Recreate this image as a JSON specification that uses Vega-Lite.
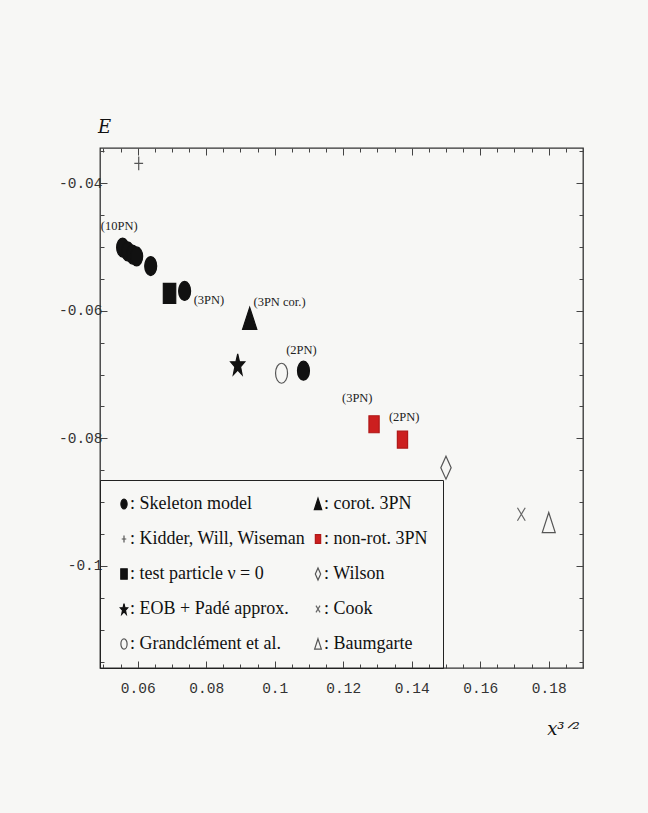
{
  "$schema": "https://vega.github.io/schema/vega-lite/v6.json",
  "width": 483,
  "height": 520,
  "autosize": {"type": "none"},
  "padding": {"left": 100, "top": 148, "right": 65, "bottom": 145},
  "background": "#f7f7f5",
  "config": {
    "view": {"stroke": "#333333", "strokeWidth": 1.3},
    "legend": {
      "orient": "bottom-left",
      "offset": 0,
      "columns": 2,
      "padding": 15,
      "rowPadding": 17,
      "columnPadding": 3,
      "labelOffset": -3,
      "labelFont": "Liberation Serif",
      "labelFontSize": 18,
      "labelColor": "#111111",
      "labelLimit": 0,
      "symbolSize": 130,
      "symbolStrokeWidth": 1.2,
      "strokeColor": "#222222"
    }
  },
  "datasets": {
    "points": [
      {"series": "Skeleton model", "x": 0.0556, "y": -0.0501},
      {"series": "Skeleton model", "x": 0.0571, "y": -0.0507},
      {"series": "Skeleton model", "x": 0.0585, "y": -0.0512},
      {"series": "Skeleton model", "x": 0.0597, "y": -0.0515},
      {"series": "Skeleton model", "x": 0.0638, "y": -0.0530},
      {"series": "Skeleton model", "x": 0.0737, "y": -0.0569},
      {"series": "Skeleton model", "x": 0.1084, "y": -0.0694},
      {"series": "Kidder, Will, Wiseman", "x": 0.0603, "y": -0.0369},
      {"series": "test particle ν = 0", "x": 0.0693, "y": -0.0573},
      {"series": "EOB + Padé approx.", "x": 0.0892, "y": -0.0684},
      {"series": "Grandclément et al.", "x": 0.1020, "y": -0.0698},
      {"series": "corot. 3PN", "x": 0.0927, "y": -0.0612},
      {"series": "non-rot. 3PN", "x": 0.1290, "y": -0.0778},
      {"series": "non-rot. 3PN", "x": 0.1373, "y": -0.0802},
      {"series": "Wilson", "x": 0.1500, "y": -0.0846},
      {"series": "Cook", "x": 0.1720, "y": -0.0919},
      {"series": "Baumgarte", "x": 0.1800, "y": -0.0932}
    ],
    "labels": [
      {"x": 0.0546, "y": -0.0467, "label": "(10PN)"},
      {"x": 0.0808, "y": -0.0584, "label": "(3PN)"},
      {"x": 0.1014, "y": -0.0586, "label": "(3PN cor.)"},
      {"x": 0.1078, "y": -0.0662, "label": "(2PN)"},
      {"x": 0.1241, "y": -0.0737, "label": "(3PN)"},
      {"x": 0.1378, "y": -0.0767, "label": "(2PN)"}
    ]
  },
  "layer": [
    {
      "data": {"name": "points"},
      "mark": {"type": "point", "opacity": 1, "strokeWidth": 1.2, "size": 484},
      "encoding": {
        "x": {
          "field": "x", "type": "quantitative",
          "scale": {"domain": [0.049, 0.19], "nice": false, "zero": false},
          "axis": {
            "orient": "bottom",
            "values": [0.05, 0.055, 0.06, 0.065, 0.07, 0.075, 0.08, 0.085, 0.09, 0.095, 0.1, 0.105, 0.11, 0.115, 0.12, 0.125, 0.13, 0.135, 0.14, 0.145, 0.15, 0.155, 0.16, 0.165, 0.17, 0.175, 0.18, 0.185, 0.19],
            "labelExpr": "round(datum.value*1000) % 20 == 0 ? format(datum.value, '.2~f') : ''",
            "labelOverlap": false,
            "labelFlush": false,
            "labelFont": "Liberation Mono",
            "labelFontSize": 14.5,
            "labelColor": "#333333",
            "labelPadding": 20,
            "domain": false,
            "grid": false,
            "tickColor": "#444444",
            "tickSize": {"condition": {"test": "round(datum.value*1000) % 20 == 0", "value": -7}, "value": -4},
            "title": "x³ᐟ²",
            "titleFont": "DejaVu Serif",
            "titleFontStyle": "italic",
            "titleFontWeight": "normal",
            "titleFontSize": 18,
            "titleColor": "#111111",
            "titleX": 463,
            "titleY": 66,
            "titleAlign": "center",
            "titleBaseline": "alphabetic"
          }
        },
        "y": {
          "field": "y", "type": "quantitative",
          "scale": {"domain": [-0.116, -0.0345], "nice": false, "zero": false},
          "axis": {
            "orient": "left",
            "values": [-0.115, -0.11, -0.105, -0.1, -0.095, -0.09, -0.085, -0.08, -0.075, -0.07, -0.065, -0.06, -0.055, -0.05, -0.045, -0.04, -0.035],
            "labelExpr": "round(abs(datum.value)*1000) % 20 == 0 ? '-' + format(abs(datum.value), '.2~f') : ''",
            "labelOverlap": false,
            "labelFlush": false,
            "labelFont": "Liberation Mono",
            "labelFontSize": 14.5,
            "labelColor": "#333333",
            "labelPadding": 5,
            "domain": false,
            "grid": false,
            "tickColor": "#444444",
            "tickSize": {"condition": {"test": "round(abs(datum.value)*1000) % 20 == 0", "value": -7}, "value": -4},
            "title": "E",
            "titleAngle": 0,
            "titleFont": "DejaVu Serif",
            "titleFontStyle": "italic",
            "titleFontWeight": "normal",
            "titleFontSize": 18,
            "titleColor": "#111111",
            "titleX": 4,
            "titleY": -16,
            "titleAlign": "center",
            "titleBaseline": "alphabetic"
          }
        },
        "shape": {
          "field": "series", "type": "nominal", "title": null,
          "scale": {
            "domain": ["Skeleton model", "Kidder, Will, Wiseman", "test particle ν = 0", "EOB + Padé approx.", "Grandclément et al.", "corot. 3PN", "non-rot. 3PN", "Wilson", "Cook", "Baumgarte"],
            "range": [
              "M-0.544,0A0.544,0.864 0 1,0 0.544,0A0.544,0.864 0 1,0 -0.544,0Z",
              "M-0.4,0L0.4,0M0,-0.62L0,0.62",
              "M-0.564,-0.909L0.564,-0.909L0.564,0.909L-0.564,0.909Z",
              "M0,-0.955L0.16,-0.241L0.649,-0.224L0.26,0.23L0.401,0.95L0,0.52L-0.401,0.95L-0.26,0.23L-0.649,-0.224L-0.16,-0.241Z",
              "M-0.545,0A0.545,0.909 0 1,0 0.545,0A0.545,0.909 0 1,0 -0.545,0Z",
              "M0,-1L0.65,1L-0.65,1Z",
              "M-0.464,-0.773L0.464,-0.773L0.464,0.773L-0.464,0.773Z",
              "M0,-1.045L0.47,0L0,1.045L-0.47,0Z",
              "M-0.355,-0.591L0.355,0.591M-0.355,0.591L0.355,-0.591",
              "M0,-0.909L0.59,0.909L-0.59,0.909Z"
            ]
          },
          "legend": {"title": null, "labelExpr": "': ' + datum.label", "labelFont": "Liberation Serif", "labelFontSize": 18}
        },
        "fill": {
          "field": "series", "type": "nominal", "title": null,
          "scale": {
            "domain": ["Skeleton model", "Kidder, Will, Wiseman", "test particle ν = 0", "EOB + Padé approx.", "Grandclément et al.", "corot. 3PN", "non-rot. 3PN", "Wilson", "Cook", "Baumgarte"],
            "range": ["#111111", "transparent", "#111111", "#111111", "transparent", "#111111", "#cc1f1f", "transparent", "transparent", "transparent"]
          },
          "legend": {"title": null, "labelExpr": "': ' + datum.label", "labelFont": "Liberation Serif", "labelFontSize": 18}
        },
        "stroke": {
          "field": "series", "type": "nominal", "title": null,
          "scale": {
            "domain": ["Skeleton model", "Kidder, Will, Wiseman", "test particle ν = 0", "EOB + Padé approx.", "Grandclément et al.", "corot. 3PN", "non-rot. 3PN", "Wilson", "Cook", "Baumgarte"],
            "range": ["#111111", "#555555", "#111111", "#111111", "#555555", "#111111", "#b01818", "#555555", "#666666", "#555555"]
          },
          "legend": {"title": null, "labelExpr": "': ' + datum.label", "labelFont": "Liberation Serif", "labelFontSize": 18}
        }
      }
    },
    {
      "data": {"name": "labels"},
      "mark": {"type": "text", "font": "Liberation Serif", "fontSize": 12.5, "color": "#222222", "align": "center", "baseline": "middle"},
      "encoding": {
        "x": {
          "field": "x", "type": "quantitative",
          "axis": {
            "orient": "top",
            "values": [0.05, 0.055, 0.06, 0.065, 0.07, 0.075, 0.08, 0.085, 0.09, 0.095, 0.1, 0.105, 0.11, 0.115, 0.12, 0.125, 0.13, 0.135, 0.14, 0.145, 0.15, 0.155, 0.16, 0.165, 0.17, 0.175, 0.18, 0.185, 0.19],
            "labels": false,
            "title": null,
            "domain": false,
            "grid": false,
            "tickColor": "#444444",
            "tickSize": {"condition": {"test": "round(datum.value*1000) % 20 == 0", "value": -7}, "value": -4}
          }
        },
        "y": {
          "field": "y", "type": "quantitative",
          "axis": {
            "orient": "right",
            "values": [-0.115, -0.11, -0.105, -0.1, -0.095, -0.09, -0.085, -0.08, -0.075, -0.07, -0.065, -0.06, -0.055, -0.05, -0.045, -0.04, -0.035],
            "labels": false,
            "title": null,
            "domain": false,
            "grid": false,
            "tickColor": "#444444",
            "tickSize": {"condition": {"test": "round(abs(datum.value)*1000) % 20 == 0", "value": -7}, "value": -4}
          }
        },
        "text": {"field": "label", "type": "nominal"}
      }
    }
  ],
  "resolve": {"axis": {"x": "independent", "y": "independent"}}
}
